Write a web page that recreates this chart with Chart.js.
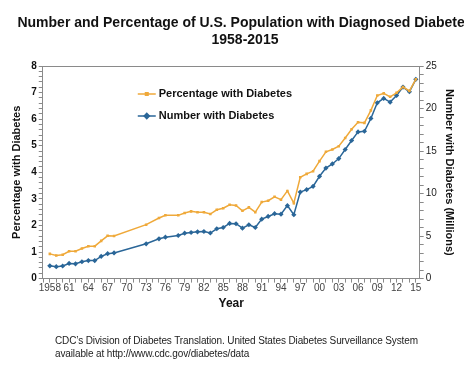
<!DOCTYPE html>
<html>
<head>
<meta charset="utf-8">
<script src="https://cdn.jsdelivr.net/npm/chart.js@4/dist/chart.umd.min.js"></script>
<style>
  html, body { margin: 0; padding: 0; background: #fff; overflow: hidden; }
  #wrap { position: relative; width: 464px; height: 366px; overflow: hidden; }
  #chart { position: absolute; left: 0; top: 0; }
  #title {
    position: absolute; left: 0; top: 14px; width: 490px; text-align: center; white-space: nowrap;
    font: bold 14px "Liberation Sans", Arial, sans-serif; color: #111; line-height: 17px;
  }
  #note {
    position: absolute; left: 55px; top: 334px; white-space: nowrap; letter-spacing: -0.12px;
    font: 10px "Liberation Sans", Arial, sans-serif; color: #222; line-height: 13px;
  }
</style>
</head>
<body>
<div id="wrap">
  <canvas id="chart" width="464" height="366"></canvas>
  <div id="title">Number and Percentage of U.S. Population with Diagnosed Diabetes<br>1958-2015</div>
  <div id="note">CDC’s Division of Diabetes Translation. United States Diabetes Surveillance System<br>available at http://www.cdc.gov/diabetes/data</div>
</div>
<script>
const years = [1958, 1959, 1960, 1961, 1962, 1963, 1964, 1965, 1966, 1967, 1968,
  1973, 1975, 1976, 1978,
  1979, 1980, 1981, 1982, 1983, 1984, 1985, 1986, 1987, 1988, 1989, 1990,
  1991, 1992, 1993, 1994, 1995, 1996, 1997, 1998, 1999, 2000, 2001, 2002,
  2003, 2004, 2005, 2006, 2007, 2008, 2009, 2010, 2011, 2012, 2013, 2014, 2015]
const pctWithDiabetes = [0.93, 0.87, 0.90, 1.03, 1.03, 1.13, 1.22, 1.22, 1.42, 1.61, 1.60,
  2.03, 2.28, 2.38, 2.38,
  2.47, 2.53, 2.50, 2.50, 2.43, 2.59, 2.65, 2.78, 2.75, 2.55, 2.68, 2.50,
  2.88, 2.93, 3.08, 2.97, 3.30, 2.84, 3.81, 3.94, 4.04, 4.42, 4.77, 4.86,
  4.98, 5.29, 5.62, 5.88, 5.86, 6.33, 6.89, 6.97, 6.84, 6.99, 7.21, 7.06, 7.50]
const numWithDiabetes = [1.50, 1.40, 1.48, 1.78, 1.74, 1.98, 2.12, 2.12, 2.62, 2.93, 3.02,
  4.09, 4.68, 4.87, 5.07,
  5.34, 5.42, 5.50, 5.54, 5.36, 5.86, 6.01, 6.49, 6.45, 5.93, 6.33, 6.01,
  6.99, 7.31, 7.63, 7.58, 8.58, 7.51, 10.18, 10.46, 10.85, 12.03, 13.00, 13.48,
  14.11, 15.18, 16.24, 17.25, 17.33, 18.83, 20.67, 21.19, 20.75, 21.54, 22.52, 21.97, 23.43]

const orange = "#EFA93A"
const blue = "#2A6698"
const font = "'Liberation Sans', Arial, sans-serif"

// frame on top of plot + Excel-like legend (line with marker) inside the plot
const frameAndLegend = {
  id: "frameAndLegend",
  afterDraw(chart) {
    const { ctx, chartArea: a } = chart
    ctx.save()
    ctx.strokeStyle = "#8a8a8a"
    ctx.lineWidth = 1
    ctx.beginPath()
    ctx.moveTo(a.left, a.top + 0.5)
    ctx.lineTo(a.right, a.top + 0.5)
    ctx.stroke()

    ctx.font = "bold 11px " + font
    ctx.textBaseline = "middle"
    chart.data.datasets.forEach((ds, i) => {
      const y = a.top + 28 + i * 22
      const x0 = a.left + 95
      ctx.strokeStyle = ds.borderColor
      ctx.fillStyle = ds.borderColor
      ctx.lineWidth = 1.5
      ctx.beginPath()
      ctx.moveTo(x0, y)
      ctx.lineTo(x0 + 18, y)
      ctx.stroke()
      Chart.helpers.drawPoint(ctx, {
        pointStyle: ds.pointStyle, radius: ds.pointRadius, borderWidth: 1
      }, x0 + 9, y)
      ctx.fillStyle = "#111"
      ctx.fillText(ds.label, x0 + 21, y)
    })
    ctx.restore()
  }
}

new Chart(document.getElementById("chart"), {
  type: "line",
  data: {
    datasets: [{
      label: "Percentage with Diabetes",
      data: years.map((yr, i) => ({ x: yr, y: pctWithDiabetes[i] })),
      yAxisID: "yPct",
      borderColor: orange,
      backgroundColor: orange,
      borderWidth: 1.5,
      pointStyle: "rect",
      pointRadius: 1.8,
      pointBorderWidth: 0,
      tension: 0
    }, {
      label: "Number with Diabetes",
      data: years.map((yr, i) => ({ x: yr, y: numWithDiabetes[i] })),
      yAxisID: "yNum",
      borderColor: blue,
      backgroundColor: blue,
      borderWidth: 1.5,
      pointStyle: "rectRot",
      pointRadius: 2.6,
      pointBorderWidth: 0,
      tension: 0
    }]
  },
  options: {
    responsive: false,
    animation: false,
    layout: { padding: { left: 6, right: 5, top: 66, bottom: 51 } },
    plugins: {
      legend: { display: false },
      tooltip: { enabled: false },
      title: { display: false }
    },
    scales: {
      x: {
        type: "linear",
        min: 1956.9,
        max: 2015.6,
        grid: { drawOnChartArea: false, tickLength: 4, color: "#8a8a8a" },
        border: { color: "#8a8a8a" },
        ticks: {
          stepSize: 1,
          includeBounds: false,
          autoSkip: false,
          maxRotation: 0,
          padding: 0,
          color: "#444",
          font: { family: font, size: 10 },
          callback: v => ((v - 1958) % 3 === 0 ? (v === 1958 ? "1958" : String(v % 100).padStart(2, "0")) : "")
        },
        title: {
          display: true, text: "Year", color: "#111",
          font: { family: font, size: 12, weight: "bold" },
          padding: { top: 2 }
        }
      },
      yPct: {
        position: "left",
        min: 0, max: 8,
        grid: { drawOnChartArea: false, tickLength: 4, color: "#8a8a8a" },
        border: { color: "#8a8a8a" },
        ticks: {
          stepSize: 0.2,
          autoSkip: false,
          padding: 2,
          color: "#111",
          font: { family: font, size: 10, weight: "bold" },
          callback: v => (Math.abs(v - Math.round(v)) < 1e-6 ? String(Math.round(v)) : "")
        },
        title: {
          display: true, text: "Percentage with Diabetes", color: "#111",
          font: { family: font, size: 11, weight: "bold" },
          padding: { bottom: 6 }
        }
      },
      yNum: {
        position: "right",
        min: 0, max: 25,
        grid: { drawOnChartArea: false, tickLength: 4, color: "#8a8a8a" },
        border: { color: "#8a8a8a" },
        ticks: {
          stepSize: 1,
          autoSkip: false,
          padding: 2,
          color: "#222",
          font: { family: font, size: 10 },
          callback: v => (v % 5 === 0 ? String(v) : "")
        },
        title: {
          display: true, text: "Number with Diabetes (Millions)", color: "#111",
          font: { family: font, size: 11, weight: "bold" },
          padding: { top: 3 }
        }
      }
    }
  },
  plugins: [frameAndLegend]
})
</script>
</body>
</html>
